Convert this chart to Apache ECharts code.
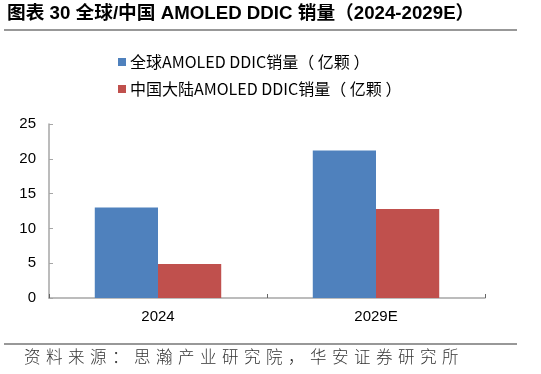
<!DOCTYPE html>
<html>
<head>
<meta charset="utf-8">
<script src="https://cdn.jsdelivr.net/npm/echarts@6/dist/echarts.min.js"></script>
<style>
html,body{margin:0;padding:0;background:#fff;}
#c{width:541px;height:374px;}
</style>
</head>
<body>
<div id="c"></div>
<script>
var categories = ['2024', '2029E'];
var globalSales = [13.0, 21.2];
var chinaSales = [4.9, 12.8];
var seriesNames = ['全球AMOLED DDIC销量（ 亿颗 ）', '中国大陆AMOLED DDIC销量（ 亿颗 ）'];
var yTicks = {min: 0, max: 25, interval: 5};
var titleText = '图表 30 全球/中国 AMOLED DDIC 销量（2024-2029E）';
var sourceText = '资料来源：思瀚产业研究院，华安证券研究所';

var FONT = '"Liberation Sans", Arial, "Noto Sans CJK SC", sans-serif';
var CJK = '"Noto Sans CJK SC", sans-serif';
var spaced = sourceText.split('').join('\u2004');

var chart = echarts.init(document.getElementById('c'));
chart.setOption({
  animation: false,
  backgroundColor: '#fff',
  textStyle: {fontFamily: FONT},
  grid: {left: 49, right: 56, top: 124, bottom: 76, containLabel: false},
  legend: {
    orient: 'vertical',
    left: 113,
    top: 49,
    itemWidth: 8,
    itemHeight: 8,
    itemGap: 11,
    icon: 'rect',
    textStyle: {fontSize: 16, color: '#000', fontFamily: CJK, padding: [0, 0, 0, -1]},
    data: seriesNames
  },
  xAxis: {
    type: 'category',
    data: categories,
    axisLine: {show: true, lineStyle: {color: '#a6a6a6', width: 1.5}},
    axisTick: {show: true, inside: true, length: 4, lineStyle: {color: '#666'}},
    axisLabel: {fontSize: 15, color: '#000', margin: 11, fontFamily: FONT}
  },
  yAxis: {
    type: 'value',
    min: yTicks.min,
    max: yTicks.max,
    interval: yTicks.interval,
    axisLine: {show: true, lineStyle: {color: '#a6a6a6', width: 1.5}},
    axisTick: {show: true, inside: true, length: 4, lineStyle: {color: '#a6a6a6'}},
    splitLine: {show: false},
    axisLabel: {fontSize: 15, color: '#000', margin: 13, fontFamily: FONT}
  },
  series: [
    {
      name: seriesNames[0],
      type: 'bar',
      data: globalSales,
      barGap: '0%',
      barCategoryGap: '42%',
      itemStyle: {color: '#4F81BD'}
    },
    {
      name: seriesNames[1],
      type: 'bar',
      data: chinaSales,
      barGap: '0%',
      barCategoryGap: '42%',
      itemStyle: {color: '#C0504D'}
    }
  ],
  graphic: [
    {
      type: 'text', left: 7, top: 5,
      style: {text: titleText, fontSize: 18.7, fontWeight: 'bold', fill: '#000', fontFamily: FONT}
    },
    {
      type: 'rect', left: 4, top: 29.5,
      shape: {width: 513, height: 1}, style: {fill: '#333'}
    },
    {
      type: 'rect', left: 4, top: 343.5,
      shape: {width: 513, height: 1}, style: {fill: '#333'}
    },
    {
      type: 'text', left: 24, top: 348,
      style: {text: spaced, fontSize: 16.5, fill: '#333', fontFamily: CJK, fontWeight: 300}
    }
  ]
});
</script>
</body>
</html>
